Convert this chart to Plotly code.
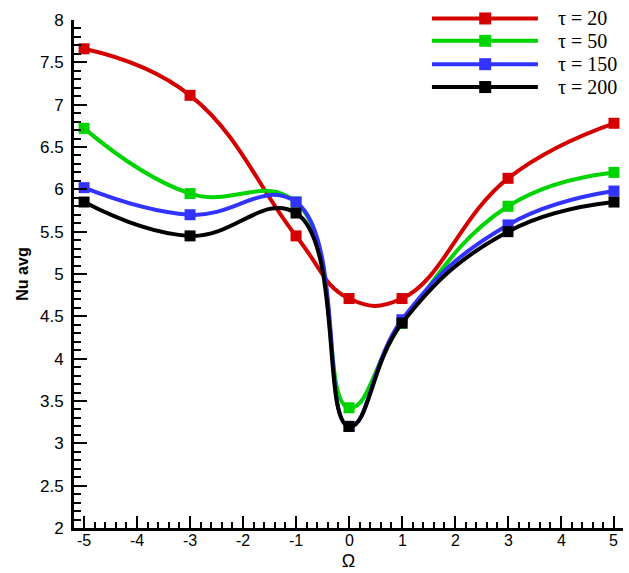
import plotly.graph_objects as go

omega = [-5, -3, -1, 0, 1, 3, 5]
nu_tau20 = [7.66, 7.11, 5.45, 4.71, 4.71, 6.13, 6.78]
nu_tau50 = [6.72, 5.95, 5.85, 3.42, 4.42, 5.80, 6.20]
nu_tau150 = [6.02, 5.70, 5.85, 3.20, 4.46, 5.58, 5.98]
nu_tau200 = [5.85, 5.45, 5.72, 3.20, 4.42, 5.50, 5.85]

series_names = ["\u03c4 = 20", "\u03c4 = 50", "\u03c4 = 150", "\u03c4 = 200"]
series_values = [nu_tau20, nu_tau50, nu_tau150, nu_tau200]
colors = ["#d40000", "#00d400", "#3333ff", "#000000"]

x_tick_vals = [-5, -4, -3, -2, -1, 0, 1, 2, 3, 4, 5]
x_tick_text = ["-5", "-4", "-3", "-2", "-1", "0", "1", "2", "3", "4", "5"]

fig = go.Figure()
for name, vals, col in zip(series_names, series_values, colors):
    fig.add_trace(go.Scatter(
        x=omega, y=vals, name=name, mode="lines+markers",
        line=dict(color=col, width=4, shape="spline", smoothing=1.25),
        marker=dict(symbol="square", size=11, color=col),
        showlegend=False,
    ))

# manual legend (long sample lines like the original)
legend_y = [1.003, 0.959, 0.913, 0.868]
shapes = []
annotations = []
for name, col, ly in zip(series_names, colors, legend_y):
    shapes.append(dict(type="line", xref="paper", yref="paper",
                       x0=0.652, x1=0.845, y0=ly, y1=ly,
                       line=dict(color=col, width=4)))
    shapes.append(dict(type="rect", xref="paper", yref="paper",
                       xsizemode="pixel", ysizemode="pixel",
                       xanchor=0.749, yanchor=ly,
                       x0=-6, x1=6, y0=-6, y1=6,
                       fillcolor=col, line=dict(width=0)))
    annotations.append(dict(xref="paper", yref="paper", x=0.878, y=ly,
                            text=name, showarrow=False, xanchor="left",
                            yanchor="middle",
                            font=dict(family="Liberation Serif", size=20,
                                      color="black")))

# x tick labels with plain hyphen-minus, as in the original
for v, t in zip(x_tick_vals, x_tick_text):
    annotations.append(dict(xref="x", yref="paper", x=v, y=0, text=t,
                            showarrow=False, xanchor="center",
                            yanchor="top", yshift=-3, borderpad=0,
                            font=dict(family="Liberation Sans", size=16,
                                      color="black")))

fig.update_layout(
    width=629, height=573,
    margin=dict(l=74, r=6, t=20, b=45),
    paper_bgcolor="white", plot_bgcolor="white",
    font=dict(family="Liberation Sans", size=17, color="black"),
    shapes=shapes, annotations=annotations,
    xaxis=dict(
        range=[-5.19, 5.17], dtick=1, tick0=0, showticklabels=False,
        automargin=False,
        showgrid=False, zeroline=False,
        showline=True, linecolor="black", linewidth=3,
        ticks="inside", ticklen=12, tickwidth=2, tickcolor="black",
        minor=dict(dtick=0.2, tick0=0, ticks="inside", ticklen=6,
                   tickwidth=2, tickcolor="black", showgrid=False),
        title=dict(text="\u03a9", font=dict(size=18), standoff=25),
    ),
    yaxis=dict(
        range=[2, 8], dtick=0.5, tick0=0, automargin=False,
        showgrid=False, zeroline=False,
        showline=True, linecolor="black", linewidth=3,
        ticks="inside", ticklen=13, tickwidth=2, tickcolor="black",
        ticklabelstandoff=4,
        minor=dict(dtick=0.1, tick0=0, ticks="inside", ticklen=7,
                   tickwidth=2, tickcolor="black", showgrid=False),
        title=dict(text="<b>Nu avg</b>", font=dict(size=16), standoff=8),
    ),
)

fig.write_html("out.html", config={"displayModeBar": False},
               post_script="document.body.style.margin='0px';")
